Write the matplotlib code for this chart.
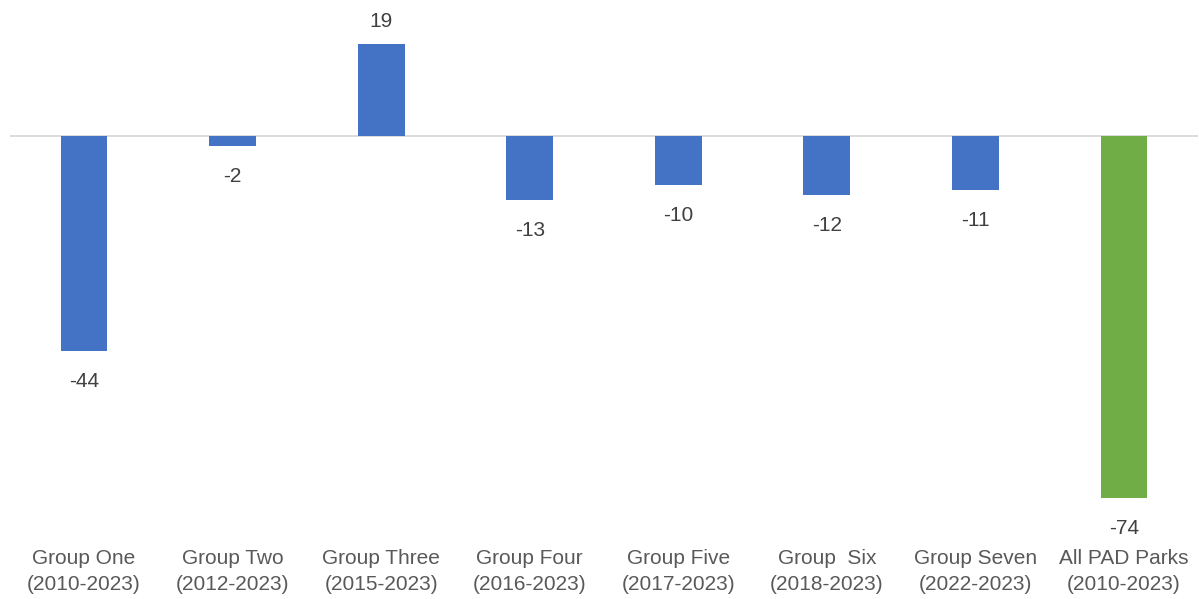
import matplotlib.pyplot as plt
import numpy as np

categories = ["Group One\n(2010-2023)", "Group Two\n(2012-2023)", "Group Three\n(2015-2023)",
              "Group Four\n(2016-2023)", "Group Five\n(2017-2023)", "Group  Six\n(2018-2023)",
              "Group Seven\n(2022-2023)", "All PAD Parks\n(2010-2023)"]
values = [-44, -2, 19, -13, -10, -12, -11, -74]
colors = ["#4472C4"] * 7 + ["#70AD47"]

plt.rcParams['font.family'] = ['Liberation Sans', 'DejaVu Sans']

fig = plt.figure(figsize=(11.99, 5.99), dpi=100)
ax = fig.add_axes([9.7 / 1199, 1 - 540 / 599, 1188.6 / 1199, 540 / 599])

x = np.arange(len(values))
ax.bar(x, values, width=0.316, color=colors, zorder=2)
ax.axhline(0, color="#D9D9D9", lw=1.3, zorder=1)

for xi, v in zip(x, values):
    off = 16 if v > 0 else -22
    ax.annotate(str(v), (xi, v), xytext=(0, off), textcoords="offset points",
                ha="center", va="center", fontsize=15, color="#404040")

ax.set_xlim(-0.5, len(values) - 0.5)
ax.set_ylim(-82.7, 27.97)
ax.set_yticks([])
ax.set_xticks(x)
ax.set_xticklabels(categories, fontsize=15, color="#595959", linespacing=1.45)
ax.tick_params(axis="x", length=0, pad=6.5)
for s in ax.spines.values():
    s.set_visible(False)

fig.savefig("out.png", dpi=100)
